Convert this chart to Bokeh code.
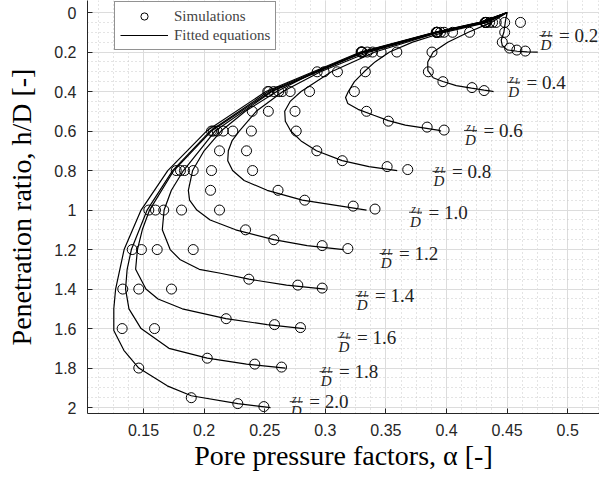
import numpy as np
from bokeh.plotting import figure
from bokeh.models import Range1d, FixedTicker, ColumnDataSource, Legend, LegendItem
from bokeh.core.properties import value
from bokeh.embed import file_html
from bokeh.resources import INLINE

# ---------------- data ----------------
zl_values = [0.2, 0.4, 0.6, 0.8, 1.0, 1.2, 1.4, 1.6, 1.8, 2.0]
zl_texts = ["= 0.2", "= 0.4", "= 0.6", "= 0.8", "= 1.0", "= 1.2", "= 1.4", "= 1.6", "= 1.8", "= 2.0"]

# simulations (h/D, alpha) per zL/D
sim_h_02 = [0.05, 0.1, 0.15, 0.18, 0.19, 0.195]
sim_a_02 = [0.461, 0.448, 0.446, 0.452, 0.458, 0.465]
sim_h_04 = [0.05, 0.1, 0.2, 0.3, 0.35, 0.38, 0.395]
sim_a_04 = [0.448, 0.419, 0.388, 0.385, 0.397, 0.421, 0.431]
sim_h_06 = [0.05, 0.1, 0.2, 0.3, 0.4, 0.5, 0.55, 0.58, 0.595]
sim_a_06 = [0.441, 0.405, 0.359, 0.333, 0.324, 0.334, 0.352, 0.384, 0.398]
sim_h_08 = [0.05, 0.1, 0.2, 0.3, 0.4, 0.5, 0.6, 0.7, 0.75, 0.78, 0.795]
sim_a_08 = [0.438, 0.398, 0.346, 0.310, 0.287, 0.275, 0.276, 0.293, 0.314, 0.351, 0.368]
sim_h_10 = [0.05, 0.1, 0.2, 0.3, 0.4, 0.5, 0.6, 0.7, 0.8, 0.9, 0.95, 0.98, 0.995]
sim_a_10 = [0.4355, 0.395, 0.339, 0.299, 0.271, 0.253, 0.239, 0.235, 0.240, 0.261, 0.283, 0.323, 0.341]
sim_h_12 = [0.05, 0.1, 0.2, 0.3, 0.4, 0.5, 0.6, 0.7, 0.8, 0.9, 1.0, 1.1, 1.15, 1.18, 1.195]
sim_a_12 = [0.4328, 0.3925, 0.3346, 0.2933, 0.2644, 0.2397, 0.2237, 0.2127, 0.2061, 0.2053, 0.2127, 0.2342, 0.2575, 0.2974, 0.3186]
sim_h_14 = [0.05, 0.1, 0.2, 0.4, 0.6, 0.8, 1.0, 1.2, 1.35, 1.38, 1.395]
sim_a_14 = [0.4325, 0.3922, 0.3304, 0.2616, 0.2158, 0.191, 0.1814, 0.191, 0.2369, 0.2773, 0.2974]
sim_h_16 = [0.05, 0.1, 0.2, 0.4, 0.6, 0.8, 1.0, 1.2, 1.4, 1.55, 1.58, 1.595]
sim_a_16 = [0.4322, 0.392, 0.330, 0.2575, 0.2108, 0.1838, 0.1667, 0.1613, 0.1731, 0.2182, 0.2581, 0.2795]
sim_h_18 = [0.05, 0.1, 0.2, 0.4, 0.6, 0.8, 1.0, 1.2, 1.4, 1.6, 1.75, 1.78, 1.795]
sim_a_18 = [0.432, 0.3918, 0.3298, 0.2534, 0.2075, 0.1805, 0.1599, 0.1483, 0.1461, 0.1591, 0.2026, 0.2418, 0.2639]
sim_h_20 = [0.05, 0.1, 0.2, 0.4, 0.6, 0.8, 1.0, 1.2, 1.4, 1.6, 1.8, 1.95, 1.98, 1.995]
sim_a_20 = [0.4318, 0.3915, 0.3295, 0.2525, 0.2061, 0.177, 0.1544, 0.1407, 0.1329, 0.1324, 0.1461, 0.1894, 0.2278, 0.2493]

# fitted equations (h/D, alpha) per zL/D
fit_h_02 = [0, 0.04, 0.1, 0.14, 0.167, 0.189, 0.196, 0.199, 0.2]
fit_a_02 = [0.45, 0.4487, 0.4473, 0.4451, 0.446, 0.4501, 0.4583, 0.4666, 0.4753]
fit_h_04 = [0, 0.05, 0.1, 0.15, 0.2, 0.25, 0.294, 0.33, 0.349, 0.37, 0.383, 0.393, 0.398, 0.4]
fit_a_04 = [0.45, 0.437, 0.418, 0.401, 0.389, 0.3845, 0.3846, 0.389, 0.397, 0.408, 0.4206, 0.431, 0.437, 0.4388]
fit_h_06 = [0, 0.05, 0.1, 0.15, 0.2, 0.25, 0.3, 0.35, 0.4, 0.43, 0.46, 0.49, 0.52, 0.547, 0.57, 0.586, 0.597, 0.6]
fit_a_06 = [0.45, 0.434, 0.398, 0.372, 0.353, 0.341, 0.332, 0.324, 0.319, 0.3167, 0.3185, 0.327, 0.340, 0.352, 0.366, 0.3835, 0.394, 0.3955]
fit_h_08 = [0, 0.05, 0.1, 0.2, 0.3, 0.4, 0.45, 0.5, 0.55, 0.6, 0.65, 0.7, 0.75, 0.78, 0.8]
fit_a_08 = [0.45, 0.432, 0.394, 0.341, 0.305, 0.28, 0.271, 0.2665, 0.267, 0.2715, 0.28, 0.2927, 0.3139, 0.336, 0.3593]
fit_h_10 = [0, 0.05, 0.1, 0.2, 0.3, 0.4, 0.5, 0.6, 0.65, 0.7, 0.75, 0.8, 0.85, 0.9, 0.95, 0.98, 1.0]
fit_a_10 = [0.45, 0.431, 0.393, 0.336, 0.296, 0.265, 0.243, 0.229, 0.223, 0.22, 0.2195, 0.2235, 0.233, 0.252, 0.281, 0.313, 0.334]
fit_h_12 = [0, 0.05, 0.1, 0.2, 0.3, 0.4, 0.5, 0.6, 0.7, 0.8, 0.9, 0.95, 1.0, 1.05, 1.1, 1.15, 1.18, 1.2]
fit_a_12 = [0.45, 0.43, 0.392, 0.333, 0.292, 0.26, 0.234, 0.214, 0.2, 0.1905, 0.187, 0.188, 0.194, 0.205, 0.226, 0.2575, 0.285, 0.315]
fit_h_14 = [0, 0.05, 0.1, 0.2, 0.4, 0.6, 0.8, 0.9, 1.0, 1.1, 1.2, 1.25, 1.3, 1.32, 1.35, 1.38, 1.4]
fit_a_14 = [0.45, 0.429, 0.392, 0.332, 0.256, 0.209, 0.183, 0.173, 0.167, 0.1655, 0.172, 0.18, 0.196, 0.2135, 0.237, 0.268, 0.30]
fit_h_16 = [0, 0.05, 0.1, 0.2, 0.4, 0.6, 0.8, 1.0, 1.1, 1.2, 1.3, 1.4, 1.45, 1.5, 1.55, 1.58, 1.6]
fit_a_16 = [0.45, 0.429, 0.391, 0.331, 0.255, 0.206, 0.175, 0.155, 0.149, 0.145, 0.1435, 0.152, 0.162, 0.182, 0.218, 0.252, 0.2823]
fit_h_18 = [0, 0.05, 0.1, 0.2, 0.4, 0.6, 0.8, 1.0, 1.2, 1.3, 1.4, 1.5, 1.6, 1.7, 1.75, 1.78, 1.8]
fit_a_18 = [0.45, 0.428, 0.391, 0.33, 0.253, 0.205, 0.174, 0.153, 0.14, 0.1365, 0.1352, 0.138, 0.148, 0.171, 0.2026, 0.235, 0.2672]
fit_h_20 = [0, 0.05, 0.1, 0.2, 0.4, 0.6, 0.8, 1.0, 1.2, 1.4, 1.5, 1.61, 1.71, 1.8, 1.89, 1.94, 1.98, 2.0]
fit_a_20 = [0.45, 0.427, 0.39, 0.329, 0.251, 0.202, 0.17, 0.148, 0.134, 0.127, 0.1255, 0.1255, 0.1338, 0.1461, 0.1696, 0.1894, 0.2278, 0.2548]

# label anchors (fraction bar centre) per zL/D
label_a = [0.4820, 0.4553, 0.4198, 0.3938, 0.3744, 0.3501, 0.3303, 0.3154, 0.3006, 0.2760]
label_h = [0.1165, 0.353, 0.597, 0.805, 1.011, 1.22, 1.433, 1.644, 1.818, 1.970]

x_ticks = [0.15, 0.2, 0.25, 0.3, 0.35, 0.4, 0.45, 0.5]
x_tick_labels = ["0.15", "0.2", "0.25", "0.3", "0.35", "0.4", "0.45", "0.5"]
y_ticks = [0, 0.2, 0.4, 0.6, 0.8, 1.0, 1.2, 1.4, 1.6, 1.8, 2.0]
y_tick_labels = ["0", "0.2", "0.4", "0.6", "0.8", "1", "1.2", "1.4", "1.6", "1.8", "2"]

sim_h = [sim_h_02, sim_h_04, sim_h_06, sim_h_08, sim_h_10, sim_h_12, sim_h_14, sim_h_16, sim_h_18, sim_h_20]
sim_a = [sim_a_02, sim_a_04, sim_a_06, sim_a_08, sim_a_10, sim_a_12, sim_a_14, sim_a_16, sim_a_18, sim_a_20]
fit_h = [fit_h_02, fit_h_04, fit_h_06, fit_h_08, fit_h_10, fit_h_12, fit_h_14, fit_h_16, fit_h_18, fit_h_20]
fit_a = [fit_a_02, fit_a_04, fit_a_06, fit_a_08, fit_a_10, fit_a_12, fit_a_14, fit_a_16, fit_a_18, fit_a_20]

# ---------------- figure ----------------
SERIF = "Liberation Serif"
SANS = "Liberation Sans"

p = figure(frame_width=512, frame_height=413, output_backend="svg", toolbar_location=None,
           x_range=Range1d(0.1038, 0.5262), y_range=Range1d(2.030, -0.061),
           min_border_left=87, min_border_right=0, min_border_top=0, min_border_bottom=58)
p.outline_line_color = None
p.background_fill_color = "white"

x_minor = np.round(np.arange(0.1, 0.55, 0.0125), 5).tolist()
y_minor = np.round(np.arange(0.0, 2.1, 0.05), 5).tolist()
p.xaxis.ticker = FixedTicker(ticks=x_ticks, minor_ticks=x_minor)
p.yaxis.ticker = FixedTicker(ticks=y_ticks, minor_ticks=y_minor)
p.xaxis.major_label_overrides = {t: l for t, l in zip(x_ticks, x_tick_labels)}
p.yaxis.major_label_overrides = {t: l for t, l in zip(y_ticks, y_tick_labels)}

for ax in (p.xaxis[0], p.yaxis[0]):
    ax.axis_line_color = "#262626"
    ax.axis_line_width = 1
    ax.major_tick_line_color = "#262626"
    ax.major_tick_in = 5
    ax.major_tick_out = 0
    ax.minor_tick_line_color = None
    ax.major_label_text_font = SANS
    ax.major_label_text_font_size = "16px"
    ax.major_label_text_color = "#262626"
    ax.axis_label_text_font = SERIF
    ax.axis_label_text_font_size = "28px"
    ax.axis_label_text_font_style = "normal"
    ax.axis_label_text_color = "black"

p.xaxis.axis_label = "Pore pressure factors, α [-]"
p.yaxis.axis_label = "Penetration ratio, h/D [-]"
p.xaxis.major_label_standoff = 6
p.xaxis.axis_label_standoff = 1
p.yaxis.major_label_standoff = 7
p.yaxis.axis_label_standoff = 14

for g in (p.xgrid[0], p.ygrid[0]):
    g.grid_line_color = "#dcdcdc"
    g.grid_line_width = 1
    g.minor_grid_line_color = "#c8c8c8"
    g.minor_grid_line_dash = "1 3"
    g.minor_grid_line_width = 1

# fitted curves
ml = p.multi_line(xs=fit_a, ys=fit_h, line_color="black", line_width=1.2)

# simulations
all_a = [a for s in sim_a for a in s]
all_h = [h for s in sim_h for h in s]
sc = p.scatter(x=all_a, y=all_h, marker="circle", size=10, fill_color=None,
               line_color="black", line_width=1)

# zL/D labels (stacked fraction z_L / D followed by "= value")
lab = ColumnDataSource(dict(x=label_a, y=label_h, t=zl_texts))
p.scatter(x="x", y="y", source=lab, marker="dash", size=13, line_color="#222222", line_width=0.9)
p.text(x="x", y="y", text=value("z"), source=lab, x_offset=-2, y_offset=-3,
       text_font=value(SERIF), text_font_style="italic", text_font_size="12px",
       text_align="center", text_baseline="alphabetic", text_color="#222222")
p.text(x="x", y="y", text=value("L"), source=lab, x_offset=1.5, y_offset=-1.5,
       text_font=value(SERIF), text_font_style="italic", text_font_size="9px",
       text_align="left", text_baseline="alphabetic", text_color="#222222")
p.text(x="x", y="y", text=value("D"), source=lab, x_offset=0, y_offset=1.5,
       text_font=value(SERIF), text_font_style="italic", text_font_size="15px",
       text_align="center", text_baseline="top", text_color="#222222")
p.text(x="x", y="y", text="t", source=lab, x_offset=13, y_offset=0,
       text_font=value(SERIF), text_font_size="19px",
       text_align="left", text_baseline="middle", text_color="#222222")

legend = Legend(items=[LegendItem(label="Simulations", renderers=[sc]),
                       LegendItem(label="Fitted equations", renderers=[ml])],
                location=(27, 363))
legend.label_text_font = SERIF
legend.label_text_font_size = "15px"
legend.glyph_width = 48
legend.glyph_height = 18
legend.label_height = 18
legend.spacing = 1
legend.padding = 5
legend.margin = 0
legend.label_standoff = 6
legend.border_line_color = "#262626"
legend.border_line_width = 1
legend.background_fill_alpha = 1
p.add_layout(legend, "center")

open("out.html", "w").write(file_html(p, INLINE))
